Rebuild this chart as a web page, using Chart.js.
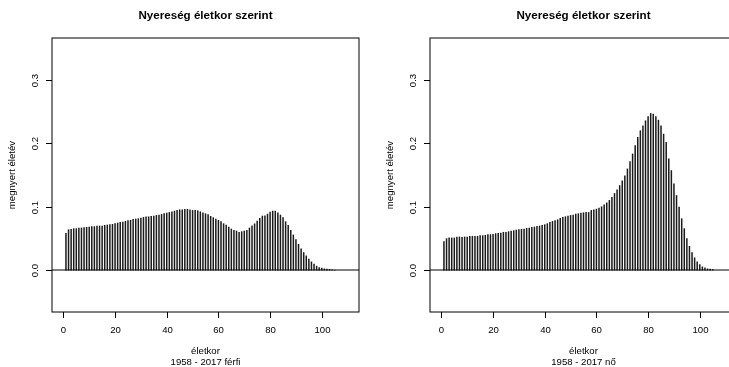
<!DOCTYPE html>
<html>
<head>
<meta charset="utf-8">
<script src="https://cdn.jsdelivr.net/npm/chart.js@4.4.1/dist/chart.umd.min.js"></script>
<style>
  body { margin: 0; background: #fff; }
  #wrap { position: relative; width: 729px; height: 367px; overflow: hidden; }
  .panel { position: absolute; top: 0; width: 378px; height: 367px; }
</style>
</head>
<body>
<div id="wrap">
  <div class="panel" style="left:0"><canvas id="maleChart"></canvas></div>
  <div class="panel" style="left:378px"><canvas id="femaleChart"></canvas></div>
</div>
<script>
// data
const ages = [1,2,3,4,5,6,7,8,9,10,11,12,13,14,15,16,17,18,19,20,
  21,22,23,24,25,26,27,28,29,30,31,32,33,34,35,36,37,38,39,40,
  41,42,43,44,45,46,47,48,49,50,51,52,53,54,55,56,57,58,59,60,
  61,62,63,64,65,66,67,68,69,70,71,72,73,74,75,76,77,78,79,80,
  81,82,83,84,85,86,87,88,89,90,91,92,93,94,95,96,97,98,99,100,
  101,102,103,104,105];

const maleGain = [0.058,0.0638,0.0644,0.0654,0.0654,0.0665,0.0665,0.067,0.0675,0.068,
  0.0686,0.0686,0.0696,0.0696,0.0696,0.0706,0.0712,0.0717,0.0722,0.0733,
  0.0743,0.0754,0.0759,0.0769,0.078,0.0785,0.08,0.0806,0.0811,0.0822,
  0.0832,0.0842,0.0842,0.0848,0.0853,0.0863,0.0869,0.0879,0.089,0.09,
  0.091,0.092,0.0931,0.0942,0.0952,0.0952,0.0958,0.0958,0.0952,0.0942,
  0.0942,0.0937,0.092,0.0905,0.089,0.0874,0.0848,0.0827,0.0806,0.0785,
  0.0764,0.0733,0.0712,0.068,0.0649,0.0628,0.0617,0.0597,0.0607,0.0617,
  0.0628,0.0665,0.0698,0.073,0.0774,0.0816,0.0853,0.0856,0.0884,0.0916,
  0.0931,0.0931,0.0905,0.0869,0.0827,0.0764,0.0706,0.0628,0.0555,0.0481,
  0.0408,0.0335,0.0277,0.0225,0.0173,0.0131,0.0094,0.0063,0.0042,0.0031,
  0.0021,0.0016,0.001,0.0004,0];

const femaleGain = [0.045,0.0497,0.0508,0.0508,0.0508,0.0523,0.0523,0.0518,0.0523,0.0523,
  0.0534,0.0534,0.0534,0.0534,0.0544,0.0544,0.0549,0.056,0.056,0.0565,
  0.0576,0.0581,0.0586,0.0597,0.0597,0.0607,0.0617,0.0623,0.0633,0.0638,
  0.0644,0.0649,0.0659,0.0665,0.0675,0.068,0.0691,0.0696,0.0706,0.0717,
  0.0733,0.0754,0.0769,0.078,0.0795,0.0816,0.0832,0.0842,0.0853,0.0863,
  0.0869,0.0884,0.089,0.09,0.0905,0.091,0.091,0.0942,0.0952,0.0963,
  0.0979,0.1,0.103,0.106,0.11,0.1146,0.1209,0.1266,0.1334,0.1408,
  0.1486,0.1596,0.1711,0.1832,0.1965,0.2093,0.2198,0.2276,0.2355,0.2423,
  0.247,0.246,0.2423,0.2365,0.2276,0.2145,0.2015,0.1753,0.157,0.136,
  0.1177,0.0994,0.0811,0.0654,0.0497,0.0377,0.0277,0.0194,0.0131,0.0089,
  0.0052,0.0037,0.0021,0.0016,0.001];

const xTicks = [0, 20, 40, 60, 80, 100];
const yTicks = [0, 0.1, 0.2, 0.3];
const yTickLabels = ['0.0', '0.1', '0.2', '0.3'];

const chartTitle = 'Nyereség életkor szerint';
const xLabel = 'életkor';
const yLabel = 'megnyert életév';

const fontFamily = "'Liberation Sans', Arial, sans-serif";

// R style frame, axes and labels
const rAxes = {
    id: 'rAxes',
    afterDatasetsDraw(chart, args, opts) {
        const ctx = chart.ctx;
        const a = chart.chartArea;
        const y = chart.scales.y;
        ctx.save();
        ctx.strokeStyle = '#000';
        ctx.lineWidth = 1;
        // abline(h = 0)
        const y0 = Math.round(y.getPixelForValue(0));
        ctx.beginPath();
        ctx.moveTo(a.left, y0);
        ctx.lineTo(a.right, y0);
        ctx.stroke();
        // box
        ctx.strokeRect(a.left, a.top, a.right - a.left, a.bottom - a.top);
        ctx.restore();
    },
    afterDraw(chart, args, opts) {
        const ctx = chart.ctx;
        const a = chart.chartArea;
        const x = chart.scales.x;
        const y = chart.scales.y;
        const midX = (a.left + a.right) / 2;
        const midY = (a.top + a.bottom) / 2;
        ctx.save();
        ctx.strokeStyle = '#000';
        ctx.fillStyle = '#000';
        ctx.lineWidth = 1;

        // x axis ticks
        ctx.font = '9.6px ' + fontFamily;
        ctx.textAlign = 'center';
        ctx.textBaseline = 'middle';
        xTicks.forEach(v => {
            const px = Math.round(x.getPixelForValue(v)) + 0.5;
            ctx.beginPath();
            ctx.moveTo(px, a.bottom);
            ctx.lineTo(px, a.bottom + 6);
            ctx.stroke();
            ctx.fillText(String(v), px, a.bottom + 18);
        });

        // y axis ticks, labels turned like R's las = 0
        yTicks.forEach((v, i) => {
            const py = Math.round(y.getPixelForValue(v)) + 0.5;
            ctx.beginPath();
            ctx.moveTo(a.left - 6, py);
            ctx.lineTo(a.left, py);
            ctx.stroke();
            ctx.save();
            ctx.translate(a.left - 17, py);
            ctx.rotate(-Math.PI / 2);
            ctx.fillText(yTickLabels[i], 0, 0);
            ctx.restore();
        });

        // titles
        ctx.font = 'bold 11.6px ' + fontFamily;
        ctx.fillText(chartTitle, midX, 16);

        ctx.font = '9.6px ' + fontFamily;
        ctx.fillText(xLabel, midX, 351.5);
        ctx.fillText(opts.sub, midX, 362.5);

        ctx.save();
        ctx.translate(12.5, midY);
        ctx.rotate(-Math.PI / 2);
        ctx.fillText(yLabel, 0, 0);
        ctx.restore();

        ctx.restore();
    }
};

function makeChart(canvasId, values, sub) {
    const canvas = document.getElementById(canvasId);
    return new Chart(canvas, {
        type: 'bar',
        data: {
            datasets: [{
                data: ages.map((age, i) => ({ x: age, y: values[i] })),
                backgroundColor: '#1a1a1a',
                borderWidth: 0,
                barThickness: 0.85
            }]
        },
        options: {
            responsive: true,
            maintainAspectRatio: false,
            animation: false,
            layout: {
                padding: { left: 52, right: 19, top: 38, bottom: 55 }
            },
            scales: {
                x: { type: 'linear', min: -4.4, max: 114.4, offset: false, display: false },
                y: { type: 'linear', min: -0.066, max: 0.366, display: false }
            },
            plugins: {
                legend: { display: false },
                tooltip: { enabled: false },
                rAxes: { sub: sub }
            }
        },
        plugins: [rAxes]
    });
}

makeChart('maleChart', maleGain, '1958 - 2017 férfi');
makeChart('femaleChart', femaleGain, '1958 - 2017 nő');
</script>
</body>
</html>
